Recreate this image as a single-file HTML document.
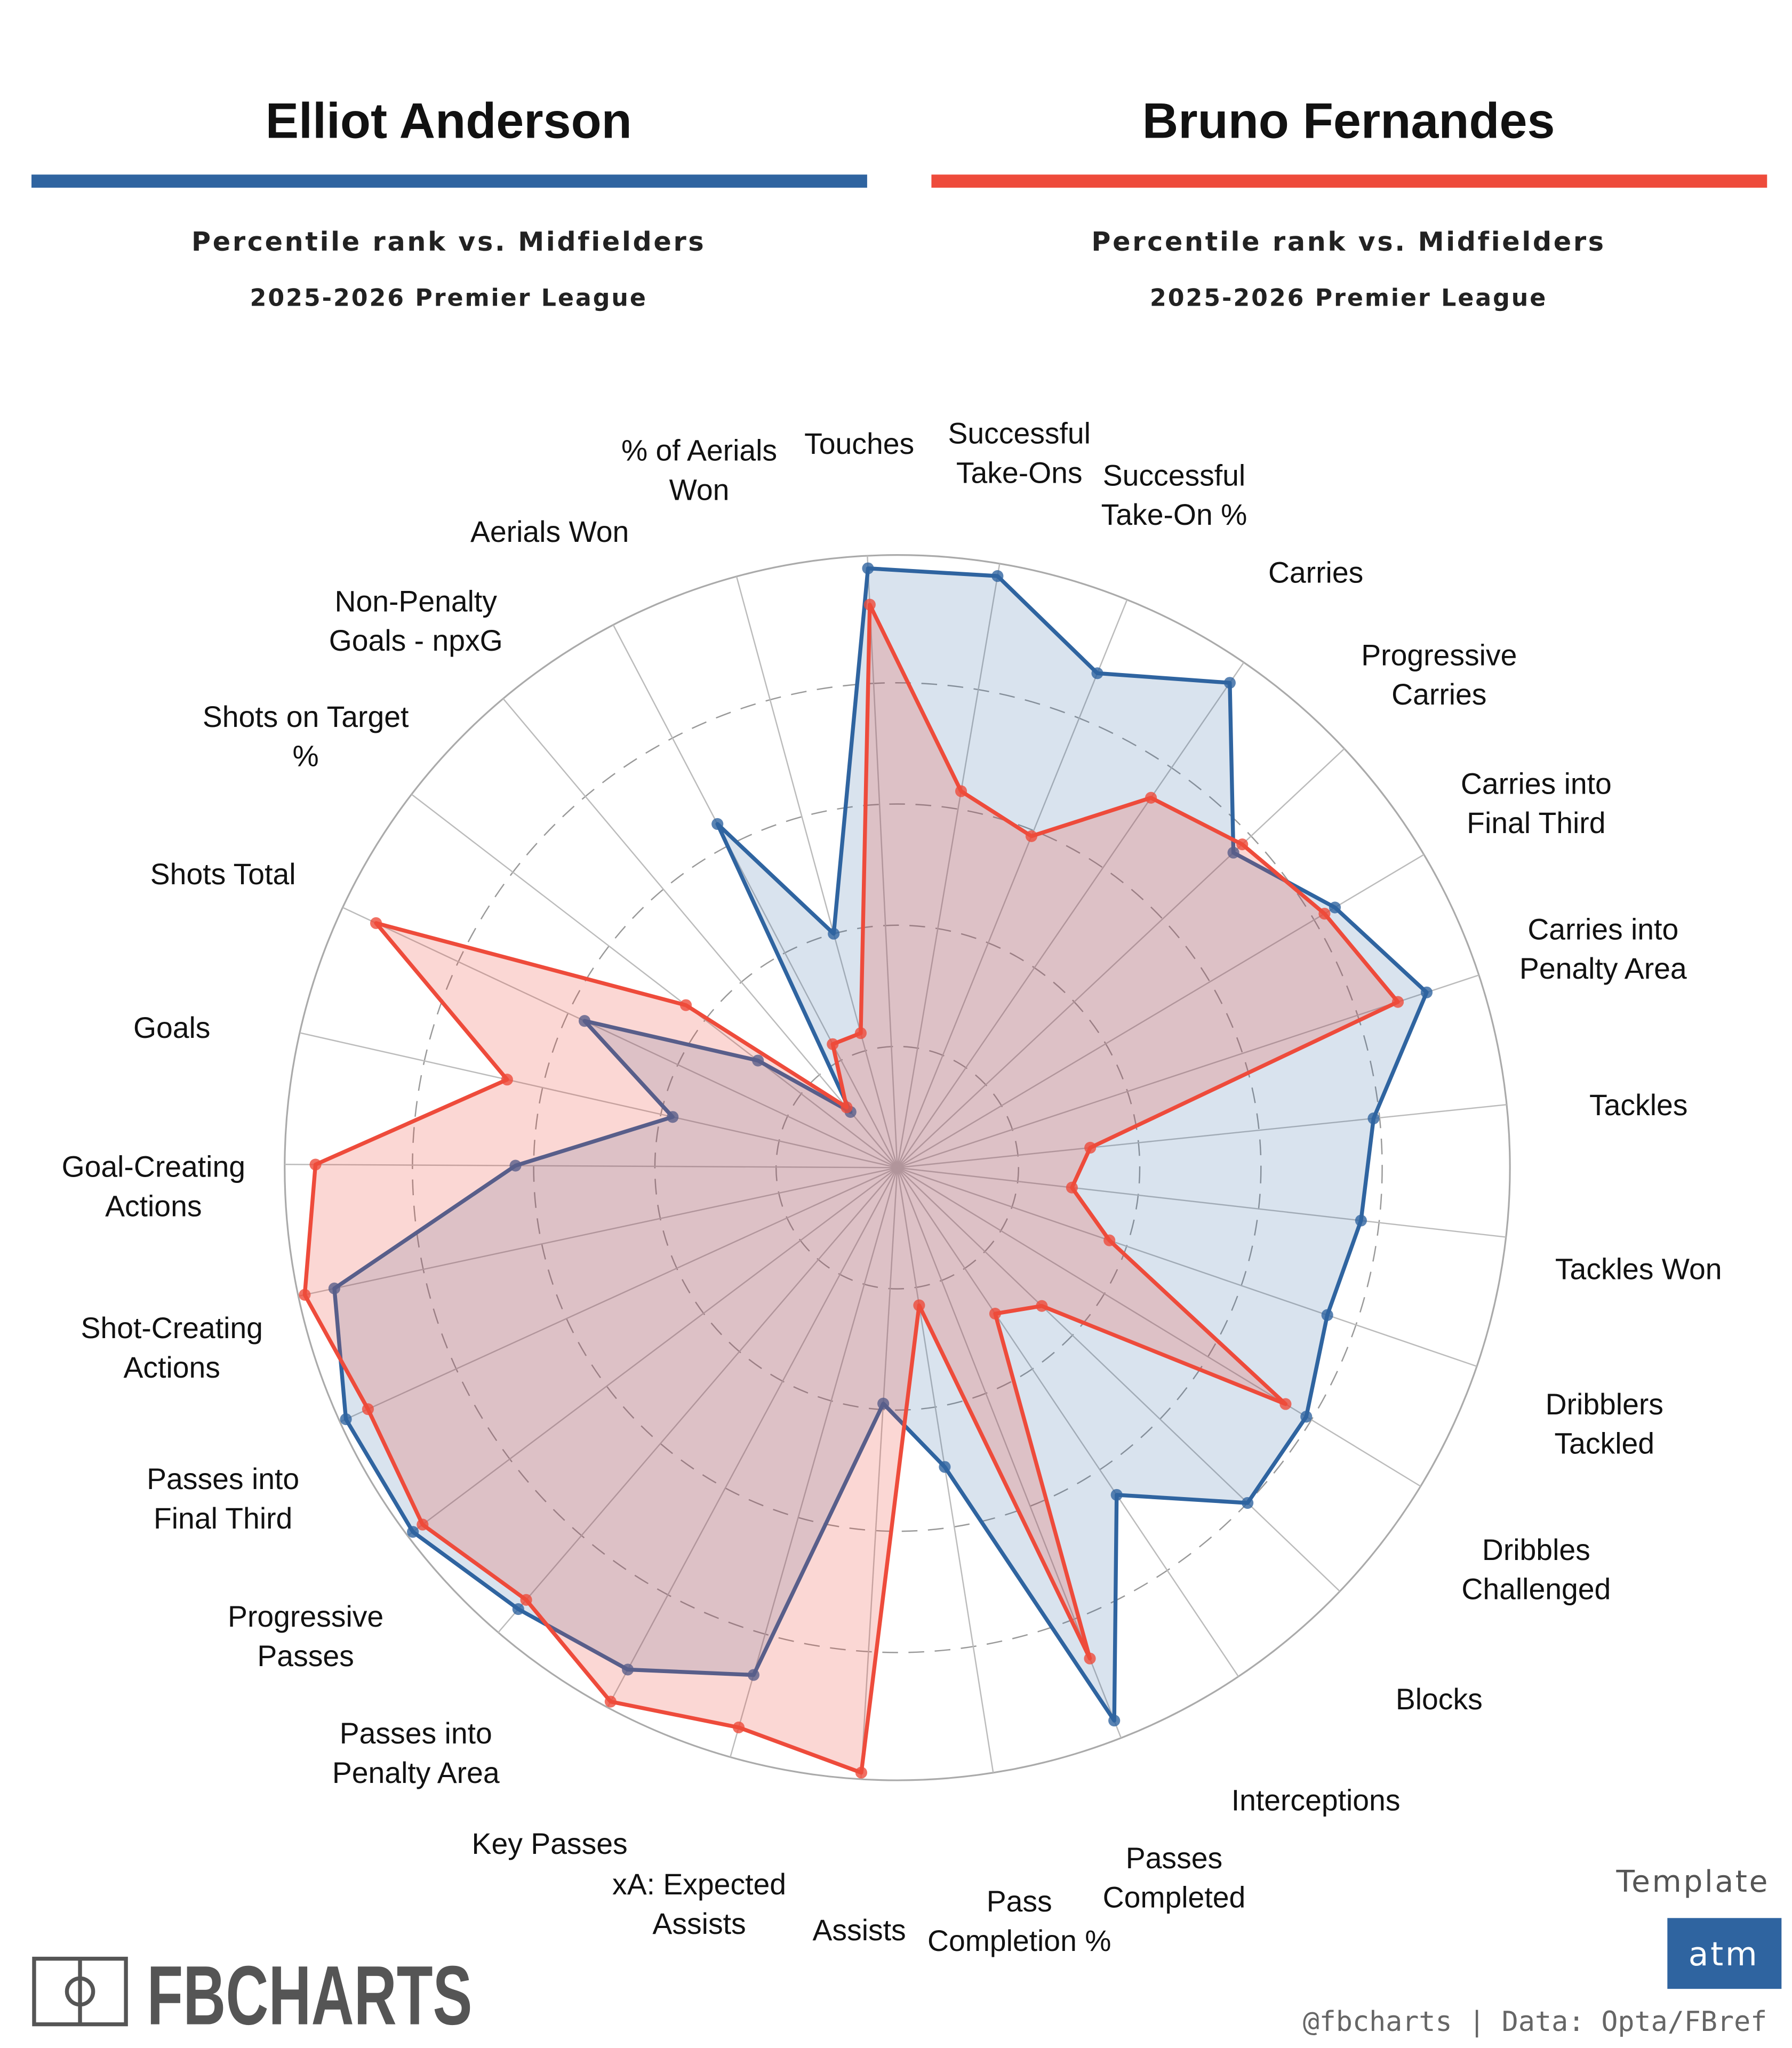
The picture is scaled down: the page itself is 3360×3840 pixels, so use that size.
<!DOCTYPE html>
<html><head><meta charset="utf-8">
<style>
html,body{margin:0;padding:0;background:#fff;}
svg{display:block;}
</style></head>
<body>
<svg id="chart" width="3360" height="3840" viewBox="0 0 1366 1561" xmlns="http://www.w3.org/2000/svg" font-family="'Liberation Sans', sans-serif">
  <text x="342" y="105" text-anchor="middle" font-size="38" font-weight="bold" fill="#111">Elliot Anderson</text>
  <rect x="24" y="133" width="637" height="10" fill="#2f64a0"/>
  <text x="342" y="191" text-anchor="middle" font-family="'DejaVu Sans', sans-serif" font-size="20" font-weight="bold" letter-spacing="1.5" fill="#222">Percentile rank vs. Midfielders</text>
  <text x="342" y="233" text-anchor="middle" font-family="'DejaVu Sans', sans-serif" font-size="18" font-weight="bold" letter-spacing="1.2" fill="#222">2025-2026 Premier League</text>

  <text x="1028" y="105" text-anchor="middle" font-size="38" font-weight="bold" fill="#111">Bruno Fernandes</text>
  <rect x="710" y="133" width="637" height="10" fill="#ee4b3b"/>
  <text x="1028" y="191" text-anchor="middle" font-family="'DejaVu Sans', sans-serif" font-size="20" font-weight="bold" letter-spacing="1.5" fill="#222">Percentile rank vs. Midfielders</text>
  <text x="1028" y="233" text-anchor="middle" font-family="'DejaVu Sans', sans-serif" font-size="18" font-weight="bold" letter-spacing="1.2" fill="#222">2025-2026 Premier League</text>

  <g id="grid"></g>
  <g id="series"></g>
  <g id="labels"></g>

  <g>
    <rect x="26" y="1493" width="70" height="50" fill="none" stroke="#555" stroke-width="3"/>
    <line x1="61" y1="1493" x2="61" y2="1543" stroke="#555" stroke-width="3"/>
    <circle cx="61" cy="1518" r="10" fill="none" stroke="#555" stroke-width="3"/>
    <text x="112" y="1543" font-size="64" font-weight="bold" fill="#555" textLength="248" lengthAdjust="spacingAndGlyphs">FBCHARTS</text>
  </g>
  <text x="1349" y="1442" text-anchor="end" font-family="'DejaVu Sans', sans-serif" font-size="23" letter-spacing="1.5" fill="#555">Template</text>
  <rect x="1271" y="1462" width="87" height="54" fill="#2f64a0"/>
  <text x="1314" y="1498" text-anchor="middle" font-family="'DejaVu Sans', sans-serif" font-size="25" letter-spacing="1.5" fill="#fff">atm</text>
  <text x="1347" y="1548" text-anchor="end" font-family="'DejaVu Sans Mono', monospace" font-size="21" fill="#666">@fbcharts | Data: Opta/FBref</text>
</svg>
<script>
const categories = ["Touches","Successful Take-Ons","Successful Take-On %","Carries","Progressive Carries","Carries into Final Third","Carries into Penalty Area","Tackles","Tackles Won","Dribblers Tackled","Dribbles Challenged","Blocks","Interceptions","Passes Completed","Pass Completion %","Assists","xA: Expected Assists","Key Passes","Passes into Penalty Area","Progressive Passes","Passes into Final Third","Shot-Creating Actions","Goal-Creating Actions","Goals","Shots Total","Shots on Target %","Non-Penalty Goals - npxG","Aerials Won","% of Aerials Won"];
const andersonValues = [99,99,88,97,76,84,92,79,77,75,79,80,65,98,50,39,87,94,96,100,100,95,63,38,57,29,12,64,40];
const fernandesValues = [93,63,59,74,78,82,87,32,29,37,75,33,29,87,23,100,96,100,94,98,96,100,96,66,95,44,13,23,23];
const gridTicks = [20,40,60,80];
const labelLines = [["Touches"],["Successful","Take-Ons"],["Successful","Take-On %"],["Carries"],["Progressive","Carries"],["Carries into","Final Third"],["Carries into","Penalty Area"],["Tackles"],["Tackles Won"],["Dribblers","Tackled"],["Dribbles","Challenged"],["Blocks"],["Interceptions"],["Passes","Completed"],["Pass","Completion %"],["Assists"],["xA: Expected","Assists"],["Key Passes"],["Passes into","Penalty Area"],["Progressive","Passes"],["Passes into","Final Third"],["Shot-Creating","Actions"],["Goal-Creating","Actions"],["Goals"],["Shots Total"],["Shots on Target","%"],["Non-Penalty","Goals - npxG"],["Aerials Won"],["% of Aerials","Won"]];

const NS="http://www.w3.org/2000/svg";
const cx=684, cy=890, R100=462, Router=467, theta0=-2.8;
const n=categories.length;
function angle(i){return (theta0+i*360/n)*Math.PI/180;}
function rScale(v){return v/100*R100;}
function pt(i,v){const a=angle(i),r=rScale(v);return [cx+r*Math.sin(a), cy-r*Math.cos(a)];}
function mk(tag,attrs,parent){const e=document.createElementNS(NS,tag);for(const k in attrs)e.setAttribute(k,attrs[k]);parent.appendChild(e);return e;}

const grid=document.getElementById('grid');
let oc=mk('circle',{cx:cx,cy:cy,r:Router,fill:'none',stroke:'#aaa','stroke-width':1.3},grid);


gridTicks.forEach(t=>{
  const c=mk('circle',{cx:cx,cy:cy,r:rScale(t),fill:'none',stroke:'#999','stroke-width':1,'stroke-dasharray':'12 8'},grid);
  
  
});
for(let i=0;i<n;i++){
  const a=angle(i);
  const l=mk('line',{x1:cx,y1:cy,x2:cx+Router*Math.sin(a),y2:cy-Router*Math.cos(a),stroke:'#bbb','stroke-width':1},grid);
  
  
}

const series=document.getElementById('series');
function drawSeries(vals,color,fill,name){
  const pts=vals.map((v,i)=>pt(i,v));
  const p=mk('polygon',{points:pts.map(p=>p.join(',')).join(' '),fill:fill,stroke:color,'stroke-width':3,'stroke-linejoin':'round'},series);
  
  
  pts.forEach((q,i)=>{
    const c=mk('circle',{cx:q[0],cy:q[1],r:4.5,fill:color,'fill-opacity':0.8},series);
    
    
  });
}
drawSeries(andersonValues,'#2f64a0','rgba(47,100,160,0.18)','anderson');
drawSeries(fernandesValues,'#ee4b3b','rgba(238,75,59,0.22)','fernandes');

const labels=document.getElementById('labels');
const labelPos=[[655,338],[777,345],[895,377],[1003,436],[1097,514],[1171,612],[1222,723],[1249,842],[1249,967],[1223,1085],[1171,1196],[1097,1295],[1003,1372],[895,1431],[777,1464],[655,1471],[533,1451],[419,1405],[317,1336],[233,1247],[170,1142],[131,1027],[117,904],[131,783],[170,666],[233,561],[317,473],[419,405],[533,358]];
labelLines.forEach((lines,i)=>{
  const [x,y]=labelPos[i];
  const t=mk('text',{x:x,'text-anchor':'middle','font-size':22.5,fill:'#111'},labels);
  
  
  const y0=y-(lines.length-1)*15+8;
  lines.forEach((s,j)=>{const ts=mk('tspan',{x:x,y:y0+j*30},t);ts.textContent=s;});
});
</script>
</body></html>
